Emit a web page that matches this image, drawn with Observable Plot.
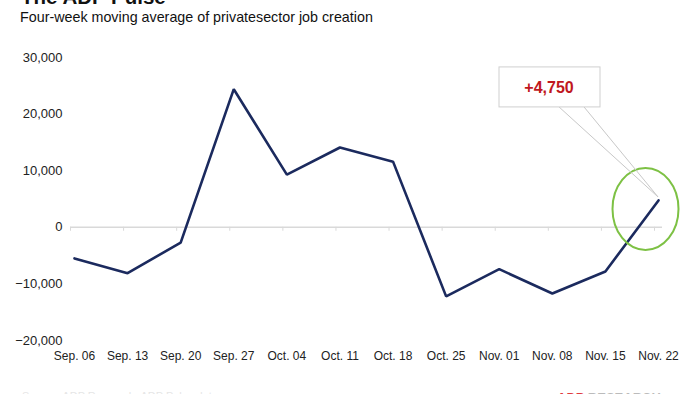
<!DOCTYPE html>
<html>
<head>
<meta charset="utf-8">
<script src="https://cdn.jsdelivr.net/npm/d3@7"></script>
<script src="https://cdn.jsdelivr.net/npm/@observablehq/plot@0.6"></script>
<style>
  html, body { margin: 0; padding: 0; background: #fff; }
  body { width: 700px; height: 394px; overflow: hidden; position: relative; font-family: "Liberation Sans", Arial, sans-serif; }
  #title { position: absolute; left: 21px; top: -13px; font-size: 20.5px; font-weight: bold; line-height: 1; color: #111; white-space: nowrap; }
  #subtitle { position: absolute; left: 20px; top: 10px; font-size: 14.3px; line-height: 1; color: #111; white-space: nowrap; }
  #header { height: 30px; }
  #chart svg { display: block; }
  #src { position: absolute; left: 22px; top: 390px; font-size: 11px; color: #e6e6e6; white-space: nowrap; }
  #logo { position: absolute; left: 557px; top: 390px; font-size: 13px; font-weight: bold; white-space: nowrap; }
</style>
</head>
<body>
<div id="header">
  <div id="title">The ADP Pulse</div>
  <div id="subtitle">Four-week moving average of privatesector job creation</div>
</div>
<div id="chart"></div>
<div id="src">Source: ADP Research, ADP Pulse data</div>
<div id="logo"><span style="color:#e03a3e">ADP</span> <span style="color:#bbb">RESEARCH</span></div>
<script>
const dates = ["Sep. 06", "Sep. 13", "Sep. 20", "Sep. 27", "Oct. 04", "Oct. 11", "Oct. 18", "Oct. 25", "Nov. 01", "Nov. 08", "Nov. 15", "Nov. 22"];
const values = [-5500, -8100, -2700, 24400, 9300, 14100, 11600, -12200, -7400, -11700, -7800, 4750];
const yTicks = [-20000, -10000, 0, 10000, 20000, 30000];
const calloutLabel = "+4,750";

const data = dates.map((d, i) => ({date: d, value: values[i]}));

const plot = Plot.plot({
  width: 700,
  height: 340,
  marginTop: 27,
  marginBottom: 30,
  marginLeft: 74,
  marginRight: 42,
  style: {fontFamily: "'Liberation Sans', Arial, sans-serif", background: "transparent"},
  x: {type: "point", domain: dates, padding: 0, round: false},
  y: {domain: [-20000, 30000]},
  marks: [
    Plot.ruleY([0], {stroke: "#d9d9d9", strokeWidth: 1.5, insetLeft: -4, insetRight: -4}),
    Plot.ruleX(dates, {x: d => d, y1: 0, y2: -700, stroke: "#d9d9d9", dx: -4}),
    Plot.axisY({ticks: yTicks, tickFormat: d3.format(","), tickSize: 0, tickPadding: 12, fontSize: 13, fill: "#222", label: null}),
    Plot.axisX({anchor: "bottom", tickSize: 0, tickPadding: 10.5, fontSize: 12, fill: "#222", label: null}),
    Plot.line(data, {x: "date", y: "value", stroke: "#1b2a5e", strokeWidth: 2.6, strokeLinejoin: "miter"})
  ]
});
document.getElementById("chart").appendChild(plot);

// Callout annotation anchored on the last data point
const xs = plot.scale("x"), ys = plot.scale("y");
const last = data[data.length - 1];
const px = xs.apply(last.date), py = ys.apply(last.value);
const svg = d3.select(plot);
const g = svg.append("g");
g.append("ellipse")
  .attr("cx", px - 12.5).attr("cy", py + 9).attr("rx", 33).attr("ry", 41)
  .attr("fill", "none").attr("stroke", "#7dc144").attr("stroke-width", 2);
g.append("path")
  .attr("d", `M${px - 99},${py - 93}L${px},${py - 3}L${px - 74},${py - 93}`)
  .attr("fill", "none").attr("stroke", "#c8c8c8").attr("stroke-width", 1);
g.append("rect")
  .attr("x", px - 159).attr("y", py - 133).attr("width", 101).attr("height", 40)
  .attr("fill", "#fff").attr("stroke", "#cfcfcf").attr("stroke-width", 1);
g.append("text")
  .attr("x", px - 109).attr("y", py - 113).attr("dy", "0.35em")
  .attr("text-anchor", "middle").attr("font-size", 16).attr("font-weight", "bold")
  .attr("fill", "#c0171d").text(calloutLabel);
</script>
</body>
</html>
